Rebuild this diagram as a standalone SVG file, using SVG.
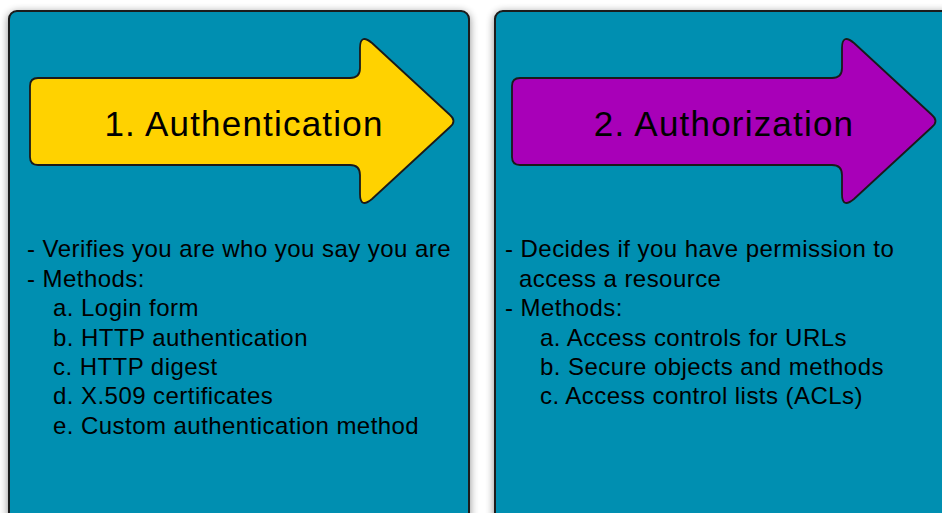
<svg xmlns="http://www.w3.org/2000/svg" width="942" height="513" viewBox="0 0 942 513">
  <defs>
    <filter id="shadow" x="-10%" y="-10%" width="120%" height="120%">
      <feGaussianBlur in="SourceAlpha" stdDeviation="4"/>
      <feOffset dx="0" dy="2" result="b"/>
      <feComponentTransfer><feFuncA type="linear" slope="0.45"/></feComponentTransfer>
      <feMerge><feMergeNode/><feMergeNode in="SourceGraphic"/></feMerge>
    </filter>
    <path id="arrowShape" d="M38,78 H350 Q360,78 360,68 V48 Q360,33 372,43 L450,115 Q457,121 450,127 L372,199 Q360,209 360,194 V175 Q360,165 350,165 H38 Q30,165 30,157 V86 Q30,78 38,78 Z"/>
  </defs>
  <style>
    .panel { fill: #008fb1; stroke: #1a1a1a; stroke-width: 2; }
    .arrow { stroke: #1a1a1a; stroke-width: 1.8; stroke-linejoin: round; }
    .title { font-family: "Liberation Sans", Arial, Helvetica, sans-serif; font-size: 35px; letter-spacing: 1.2px; fill: #000; text-anchor: middle; }
    .body { font-family: "Liberation Sans", Arial, Helvetica, sans-serif; font-size: 24px; letter-spacing: 0.45px; fill: #000; }
  </style>
  <rect width="942" height="513" fill="#ffffff"/>

  <g id="authentication">
    <rect class="panel" x="9" y="11" width="460" height="530" rx="8" filter="url(#shadow)"/>
    <use href="#arrowShape" class="arrow" fill="#ffd200"/>
    <text class="title" x="244" y="136">1. Authentication</text>
    <text class="body">
      <tspan x="27" y="257">- Verifies you are who you say you are</tspan>
      <tspan x="27" y="286.5">- Methods:</tspan>
      <tspan x="53" y="316">a. Login form</tspan>
      <tspan x="53" y="345.5">b. HTTP authentication</tspan>
      <tspan x="53" y="375">c. HTTP digest</tspan>
      <tspan x="53" y="404">d. X.509 certificates</tspan>
      <tspan x="53" y="433.5">e. Custom authentication method</tspan>
    </text>
  </g>

  <g id="authorization">
    <rect class="panel" x="495" y="11" width="460" height="530" rx="8" filter="url(#shadow)"/>
    <use href="#arrowShape" class="arrow" fill="#a800b8" transform="translate(482,0)"/>
    <text class="title" x="724" y="136">2. Authorization</text>
    <text class="body">
      <tspan x="505" y="257">- Decides if you have permission to</tspan>
      <tspan x="519" y="286.5">access a resource</tspan>
      <tspan x="505" y="316">- Methods:</tspan>
      <tspan x="540" y="345.5">a. Access controls for URLs</tspan>
      <tspan x="540" y="375">b. Secure objects and methods</tspan>
      <tspan x="540" y="404">c. Access control lists (ACLs)</tspan>
    </text>
  </g>

  <g id="connectors"></g>
</svg>
